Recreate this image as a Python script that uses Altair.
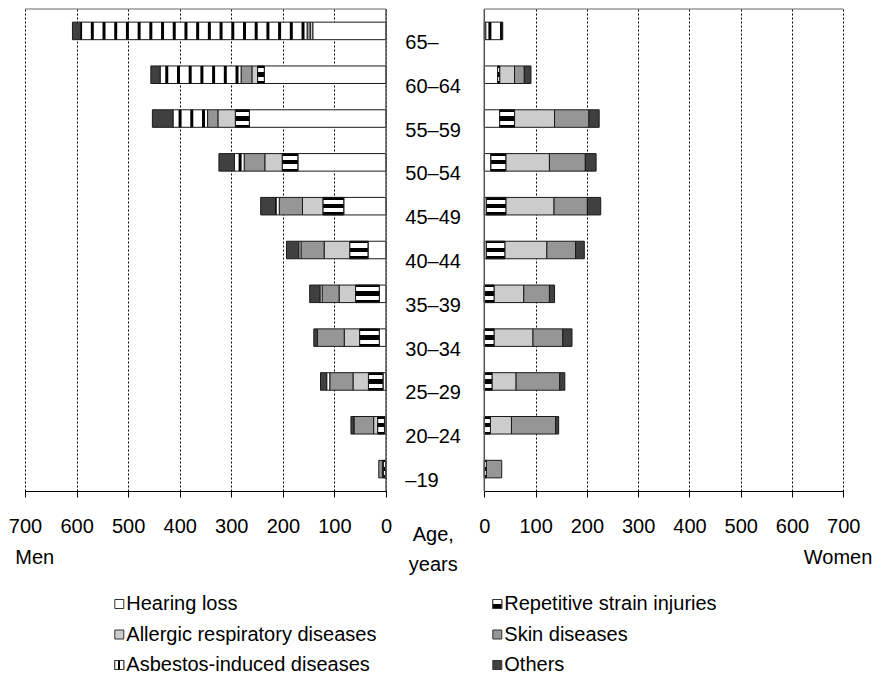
import altair as alt
import pandas as pd

# ---------------- data ----------------
ages = ["65–", "60–64", "55–59", "50–54", "45–49", "40–44",
        "35–39", "30–34", "25–29", "20–24", "–19"]
diseases = ["Hearing loss", "Repetitive strain injuries",
            "Allergic respiratory diseases", "Skin diseases",
            "Asbestos-induced diseases", "Others"]

men_hearing = [142, 236, 265, 171, 82, 35, 13, 13, 6, 3, 1]
men_rsi = [0, 13, 27, 30, 40, 35, 46, 38, 28, 13, 4]
men_allergic = [5, 11, 34, 34, 40, 50, 32, 30, 30, 8, 2]
men_skin = [6, 21, 20, 40, 45, 45, 33, 52, 45, 38, 7]
men_asbestos = [439, 157, 67, 19, 7, 4, 4, 0, 6, 0, 0]
men_others = [16, 18, 40, 30, 29, 24, 20, 7, 12, 6, 0]

women_hearing = [3, 26, 30, 13, 4, 4, 0, 0, 0, 0, 0]
women_rsi = [0, 4, 29, 29, 38, 36, 19, 19, 15, 12, 4]
women_allergic = [0, 29, 78, 85, 94, 82, 58, 76, 47, 41, 0]
women_skin = [0, 19, 67, 70, 65, 56, 50, 58, 85, 86, 30]
women_asbestos = [31, 0, 0, 0, 0, 0, 0, 0, 0, 0, 0]
women_others = [2, 13, 20, 21, 26, 17, 10, 18, 10, 6, 0]

axis_values = [0, 100, 200, 300, 400, 500, 600, 700]

men_series = [men_hearing, men_rsi, men_allergic, men_skin, men_asbestos, men_others]
women_series = [women_hearing, women_rsi, women_allergic, women_skin, women_asbestos, women_others]

rows = []
for sex, series in (("Men", men_series), ("Women", women_series)):
    for k, (d, vals) in enumerate(zip(diseases, series)):
        for a, v in zip(ages, vals):
            rows.append({"sex": sex, "age": a, "disease": d, "order": k, "value": v})
df = pd.DataFrame(rows)

legend_df = pd.DataFrame({"disease": diseases,
                          "col": [k % 2 for k in range(len(diseases))],
                          "row": [k // 2 for k in range(len(diseases))]})

# ---------------- style ----------------
FONT = "Liberation Sans"
FS = 20
H = 482
W = 819
MEN_RANGE = [361, 0]
WOMEN_RANGE = [459.3, 818.3]
fills = ["white", "white", "#cccccc", "#969696", "white", "#404040"]
PERIOD = 22.7
STRIPE = 5.8
START = 5

RSI_GRAD = {"gradient": "linear", "x1": 0, "y1": 0, "x2": 0, "y2": 1,
            "stops": [{"offset": 0, "color": "black"}, {"offset": 0.12, "color": "black"},
                      {"offset": 0.12, "color": "white"}, {"offset": 0.36, "color": "white"},
                      {"offset": 0.36, "color": "black"}, {"offset": 0.62, "color": "black"},
                      {"offset": 0.62, "color": "white"}, {"offset": 0.86, "color": "white"},
                      {"offset": 0.86, "color": "black"}, {"offset": 1, "color": "black"}]}
RSI_LEG = {"gradient": "linear", "x1": 0, "y1": 0, "x2": 0, "y2": 1,
           "stops": [{"offset": 0, "color": "white"}, {"offset": 0.5, "color": "white"},
                     {"offset": 0.5, "color": "black"}, {"offset": 1, "color": "black"}]}
ASB_LEG = {"gradient": "linear", "x1": 0, "y1": 0, "x2": 1, "y2": 0,
           "stops": [{"offset": 0, "color": "white"}, {"offset": 0.38, "color": "white"},
                     {"offset": 0.38, "color": "black"}, {"offset": 0.62, "color": "black"},
                     {"offset": 0.62, "color": "white"}, {"offset": 1, "color": "white"}]}


def yscale():
    return alt.Scale(domain=ages, paddingInner=0.6, paddingOuter=0.3)


def panel(sex, xrange):
    xs = alt.Scale(domain=[0, 700], range=xrange)
    y = alt.Y("age:N", scale=yscale(), axis=None, sort=ages)
    axis = alt.Axis(values=axis_values, orient="bottom", grid=True, gridColor="black",
                    gridDash=[2, 2], gridWidth=1, gridOpacity=1, domainColor="black",
                    domainWidth=1, tickColor="black", tickSize=6, labelFont=FONT,
                    labelFontSize=FS, labelColor="black", labelPadding=19,
                    labelFlush=False, labelOverlap=False, title=None)
    base = (alt.Chart(df)
            .transform_filter(alt.datum.sex == sex)
            .transform_filter(alt.datum.value > 0)
            .transform_stack(stack="value", groupby=["age"],
                             sort=[alt.SortField("order", order="ascending")],
                             as_=["x0", "x1"]))
    bars = base.mark_bar(stroke="#1a1a1a", strokeWidth=1, opacity=1).encode(
        x=alt.X("x0:Q", scale=xs, axis=axis),
        x2="x1:Q",
        y=y,
        fill=alt.Fill("disease:N", scale=alt.Scale(domain=diseases, range=fills), legend=None),
    )
    rsi = (base.transform_filter(alt.datum.disease == diseases[1])
           .mark_bar(fill=RSI_GRAD, stroke="#1a1a1a", strokeWidth=1, opacity=1)
           .encode(x="x0:Q", x2="x1:Q", y=y))
    stripes = (base.transform_filter(alt.datum.disease == diseases[4])
               .transform_calculate(s=f"sequence(datum.x0 + {START}, datum.x1 - 1, {PERIOD})")
               .transform_flatten(["s"])
               .transform_calculate(s2=f"min(datum.s + {STRIPE}, datum.x1)")
               .mark_bar(fill="black", strokeWidth=0, opacity=1)
               .encode(x="s:Q", x2="s2:Q", y=y))
    one = alt.Chart(alt.Data(values=[{"z": 0}]))
    zero = one.mark_rule(color="#555", strokeWidth=1.5).encode(x=alt.datum(0))
    top = one.mark_rule(color="#666", strokeWidth=1).encode(
        x=alt.datum(0), x2=alt.datum(700), y=alt.value(0))
    return alt.layer(bars, rsi, stripes, zero, top)


men = panel("Men", MEN_RANGE)
women = panel("Women", WOMEN_RANGE)

age_labels = alt.Chart(pd.DataFrame({"age": ages})).mark_text(
    align="left", baseline="middle", dy=12, fontSize=FS, font=FONT, color="black"
).encode(x=alt.value(380.3), y=alt.Y("age:N", scale=yscale(), axis=None, sort=ages), text="age:N")

one = alt.Chart(alt.Data(values=[{"z": 0}]))
age_title = one.mark_text(text=["Age,", "years"], lineHeight=30, align="center",
                          baseline="alphabetic", fontSize=FS, font=FONT, color="black"
                          ).encode(x=alt.value(408.3), y=alt.value(532))
men_title = one.mark_text(text="Men", align="left", baseline="alphabetic", fontSize=FS,
                          font=FONT, color="black").encode(x=alt.value(-9.7), y=alt.value(555))
women_title = one.mark_text(text="Women", align="right", baseline="alphabetic", fontSize=FS,
                            font=FONT, color="black").encode(x=alt.value(847.3), y=alt.value(555))

lx = alt.X("col:Q", scale=alt.Scale(domain=[0, 1], range=[94.3, 472.3]), axis=None)
ly = alt.Y("row:Q", scale=alt.Scale(domain=[0, 2], range=[595, 656]), axis=None)
leg_base = alt.Chart(legend_df)
leg_sym = leg_base.mark_square(size=81, stroke="#333", strokeWidth=1, opacity=1).encode(
    x=lx, y=ly,
    fill=alt.Fill("disease:N", scale=alt.Scale(domain=diseases, range=fills), legend=None))
leg_rsi = leg_base.transform_filter(alt.datum.disease == diseases[1]).mark_square(
    size=81, stroke="#333", strokeWidth=1, opacity=1, fill=RSI_LEG).encode(x=lx, y=ly)
leg_asb = leg_base.transform_filter(alt.datum.disease == diseases[4]).mark_square(
    size=81, stroke="#333", strokeWidth=1, opacity=1, fill=ASB_LEG).encode(x=lx, y=ly)
leg_txt = leg_base.mark_text(align="left", baseline="middle", dx=7, fontSize=FS, font=FONT,
                             color="black").encode(x=lx, y=ly, text="disease:N")
legend = alt.layer(leg_sym, leg_rsi, leg_asb, leg_txt)

chart = (alt.layer(men, women, age_labels, age_title, men_title, women_title, legend)
         .resolve_scale(x="independent", y="independent", fill="independent")
         .properties(width=W, height=H, padding={"left": 0, "right": 0, "top": 0, "bottom": 0},
                     background="white")
         .configure_view(stroke=None))

chart.save("out.html", embed_options={"renderer": "svg", "actions": False})
